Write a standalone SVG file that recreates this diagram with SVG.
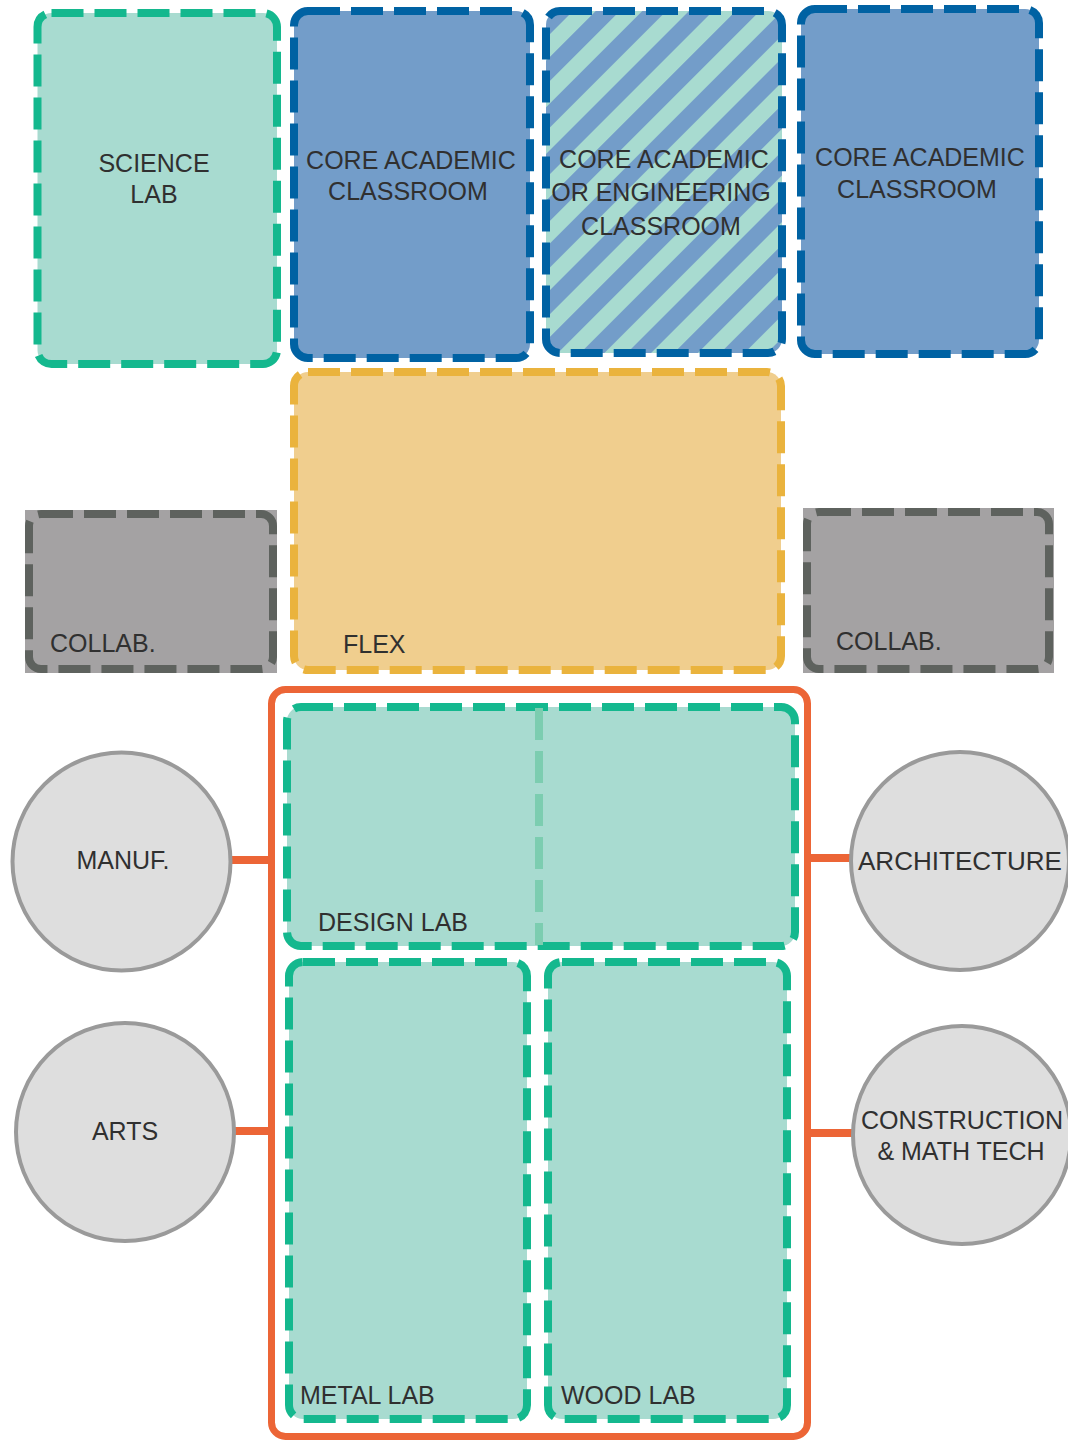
<svg xmlns="http://www.w3.org/2000/svg" width="1068" height="1442" viewBox="0 0 1068 1442">
<defs>
<pattern id="hatch" patternUnits="userSpaceOnUse" width="33" height="33" patternTransform="rotate(45)">
<rect x="0" y="0" width="33" height="33" fill="#a8dbd0"/>
<rect x="0" y="0" width="17" height="33" fill="#739dc9"/>
</pattern>
<style>
.t{font-family:"Liberation Sans",Arial,sans-serif;font-size:25px;fill:#303030}
.m{text-anchor:middle}
.teal{fill:#a8dbd0;stroke:#14b88e;stroke-width:8;stroke-dasharray:32 11}
.blue{fill:#739dc9;stroke:#0062a3;stroke-width:8;stroke-dasharray:32 11}
.flex{fill:#f0ce8e;stroke:#eab33d;stroke-width:8;stroke-dasharray:32 11}
.grey{fill:none;stroke:#5e625e;stroke-width:8;stroke-dasharray:32 11}
.circ{fill:#dedede;stroke:#9a9a9a;stroke-width:4}
.conn{stroke:#ec6536;stroke-width:8;fill:none}
</style>
</defs>
<rect width="1068" height="1442" fill="#ffffff"/>

<g id="science-lab">
<rect class="teal" x="37.5" y="13" width="239.5" height="351" rx="14"/>
<text class="t m" x="154" y="172">SCIENCE</text>
<text class="t m" x="154" y="203">LAB</text>
</g>

<g id="core-academic-1">
<rect class="blue" x="294" y="11" width="236" height="347" rx="14"/>
<text class="t m" x="411" y="169">CORE ACADEMIC</text>
<text class="t m" x="408" y="200">CLASSROOM</text>
</g>

<g id="core-or-engineering">
<rect x="546" y="11" width="236" height="342" rx="14" fill="url(#hatch)" stroke="#0062a3" stroke-width="8" stroke-dasharray="32 11"/>
<text class="t m" x="664" y="168">CORE ACADEMIC</text>
<text class="t m" x="661" y="201">OR ENGINEERING</text>
<text class="t m" x="661" y="235">CLASSROOM</text>
</g>

<g id="core-academic-2">
<rect class="blue" x="801" y="9" width="238" height="345" rx="14"/>
<text class="t m" x="920" y="166">CORE ACADEMIC</text>
<text class="t m" x="917" y="198">CLASSROOM</text>
</g>

<g id="flex">
<rect class="flex" x="294" y="372" width="487" height="298" rx="14"/>
<text class="t" x="343" y="653">FLEX</text>
</g>

<g id="collab-left">
<rect x="25" y="510" width="252" height="163" fill="#a4a2a3"/>
<rect class="grey" x="29" y="514" width="244" height="155" rx="12"/>
<text class="t" x="50" y="652">COLLAB.</text>
</g>

<g id="collab-right">
<rect x="803" y="508" width="251" height="165" fill="#a4a2a3"/>
<rect class="grey" x="807" y="512" width="242" height="157" rx="12"/>
<text class="t" x="836" y="650">COLLAB.</text>
</g>

<g id="cte-frame">
<rect x="271.5" y="689.5" width="536" height="747" rx="14" fill="none" stroke="#ec6536" stroke-width="7"/>
</g>

<g id="design-lab">
<rect class="teal" x="287" y="707" width="508" height="239" rx="14"/>
<line x1="539" y1="708" x2="539" y2="945" stroke="#7ccdb0" stroke-width="8" stroke-dasharray="32 11"/>
<text class="t" x="318" y="931">DESIGN LAB</text>
</g>

<g id="metal-lab">
<rect class="teal" x="289" y="962" width="238" height="457" rx="14"/>
<text class="t" x="300" y="1404">METAL LAB</text>
</g>

<g id="wood-lab">
<rect class="teal" x="548" y="962" width="239" height="457" rx="14"/>
<text class="t" x="561" y="1404">WOOD LAB</text>
</g>

<g id="connectors">
<line class="conn" x1="232" y1="860" x2="268" y2="860"/>
<line class="conn" x1="235" y1="1131" x2="268" y2="1131"/>
<line class="conn" x1="811" y1="858" x2="851" y2="858"/>
<line class="conn" x1="811" y1="1133" x2="853" y2="1133"/>
</g>

<g id="manuf">
<circle class="circ" cx="121.5" cy="861.5" r="109"/>
<text class="t m" x="123" y="869">MANUF.</text>
</g>

<g id="arts">
<circle class="circ" cx="125" cy="1132" r="109"/>
<text class="t m" x="125" y="1140">ARTS</text>
</g>

<g id="architecture">
<circle class="circ" cx="960" cy="861" r="109"/>
<text class="t m" x="960" y="870" textLength="204" lengthAdjust="spacingAndGlyphs">ARCHITECTURE</text>
</g>

<g id="construction">
<circle class="circ" cx="962" cy="1135" r="109"/>
<text class="t m" x="962" y="1129" textLength="202" lengthAdjust="spacingAndGlyphs">CONSTRUCTION</text>
<text class="t m" x="961" y="1160">&amp; MATH TECH</text>
</g>
</svg>
